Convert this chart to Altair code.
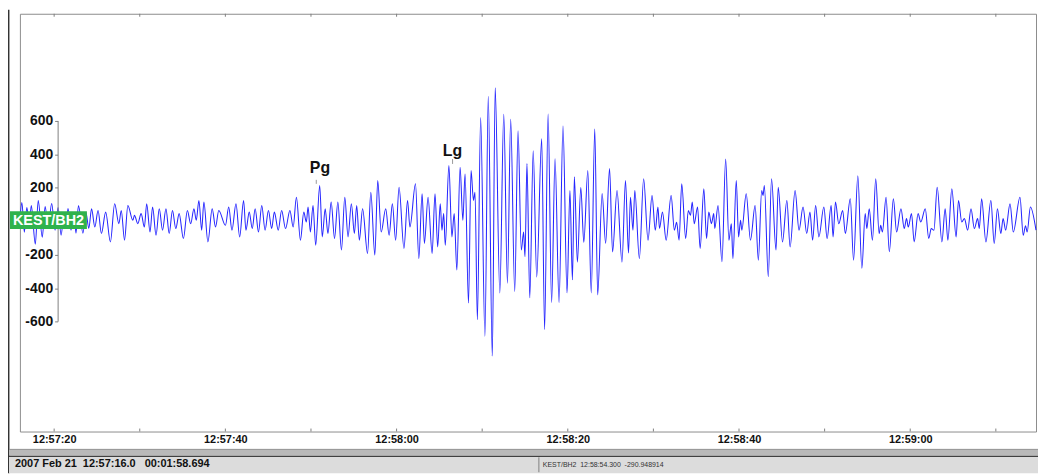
import altair as alt
import pandas as pd

# ---------------- data (seconds after 2007-02-21 12:57:16.0, counts) ----------------
T_NOISE = [0.00, 0.23, 0.52, 0.81, 1.10, 1.33, 1.80, 2.14, 2.61, 2.95, 3.30, 3.71, 4.11, 4.46,
           4.81, 5.16, 5.39, 5.62, 5.97, 6.31, 6.55, 6.84, 7.36, 7.71, 8.05,
           8.37, 8.75, 9.13, 9.52, 10.02, 10.57, 11.07, 11.56, 11.84, 12.22, 12.61, 13.19, 13.38,
           13.77, 14.16, 14.54, 14.81, 15.20, 15.50, 15.90, 16.28, 16.66, 17.06, 17.44, 17.82,
           18.21, 18.60, 19.10, 19.56, 19.95, 20.33, 20.60, 20.91, 21.23, 21.49, 21.96, 22.46,
           22.85, 23.23]
A_NOISE = [0, 113, -65, 83, -24, 95, -137, 125, -95, 89, -42, 107, -53, 83,
           -83, 53, -30, 77, -53, 53, -71, 95, -71, 53, -42,
           75, -34, 65, -73, 55, -123, 105, -14, 65, -113, 95, 6, 36,
           -14, 46, -34, 105, -64, 85, -83, 75, -53, 75, -73, 65,
           -43, 46, -103, 65, -14, 75, 6, 125, -53, 115, -123, 75,
           -34, 65]

T_PG = [24.01, 24.39, 24.77, 25.24, 25.67, 26.13, 26.40, 26.79, 27.14, 27.48, 27.87, 28.25,
        28.64, 29.03, 29.41, 29.72, 30.18, 30.57, 31.03, 31.54, 31.92, 32.30, 32.77, 33.16,
        33.46, 33.66, 33.93, 34.24, 34.55, 35.02, 35.32, 35.66, 35.98, 36.36, 36.75, 37.14,
        37.56, 37.95, 38.33, 38.72, 39.07, 39.34, 39.65, 40.03, 40.61, 40.99, 41.46, 41.80,
        42.20, 42.73, 43.13, 43.51, 43.89, 44.29, 44.86, 45.28, 45.56, 46.21, 46.60, 46.98,
        47.25]
A_PG = [-24, 85, -53, 105, -93, 125, -53, 55, -43, 75, -64, 95,
        -53, 65, -43, 55, -53, 65, -43, 65, -34, 144, -113, 55,
        -4, 85, -64, 95, -143, 214, -93, 75, -73, 115, -103, 115,
        -172, 144, -93, 105, -73, 95, -113, 75, -192, 174, -202, 244,
        -64, 75, -83, 105, -113, 204, -162, 125, -34, 224, -222, 165,
        -132]

T_LG = [47.68, 48.15, 48.49, 48.80, 49.10, 49.30, 49.50, 49.69, 50.11, 50.46, 50.73, 51.04,
        51.42, 51.74, 52.00, 52.40, 52.70, 52.98, 53.16, 53.44, 53.82, 54.32, 54.71, 55.18,
        55.52, 56.06, 56.52, 56.95, 57.33, 57.80, 58.19, 58.57, 58.84, 59.00, 59.23, 59.56,
        59.96, 60.37, 60.95, 61.29, 61.70, 62.11, 62.51, 62.98, 63.44, 63.91, 64.25, 64.54,
        64.77, 65.12, 65.52, 65.87, 66.34, 66.74, 67.15, 67.49, 68.01, 68.42, 68.88, 69.23,
        69.75, 70.33, 70.74, 71.09, 71.32, 71.61]
A_LG = [144, -192, 165, -153, 105, -53, 46, -143, 333, -93, 46, -291,
        323, 6, 283, -489, 303, 125, 174, -588, 620, -687, 748, -806,
        798, -429, 640, -370, 610, -420, 541, -172, -64, -212, 345, -457,
        422, -333, 493, -647, 642, -487, 374, -487, 570, -428, 184, -350,
        267, -244, 202, -125, 303, -428, 552, -440, 166, -131, 315, -184,
        184, -244, 244, -190, 143, -53]

T_CODA = [71.83, 72.36, 72.86, 73.37, 73.84, 74.22, 74.53, 74.71, 75.06, 75.49, 76.07, 76.45,
          76.71, 77.00, 77.31, 77.77, 78.08, 78.33, 78.54, 78.77, 79.16, 79.46, 79.89, 80.21,
          80.47, 80.78, 81.05, 81.17, 81.55, 82.01, 82.44, 82.82, 83.10, 83.29, 83.68, 83.95,
          84.18, 84.33, 84.84, 85.34, 85.88, 86.26, 86.65, 86.81, 86.96, 87.42, 87.80, 88.32,
          88.58, 89.08, 89.59, 89.97, 90.55, 91.01, 91.48, 91.91, 92.29, 92.60, 92.95, 93.33,
          93.91, 94.29, 94.76, 94.99, 95.27, 95.65]
A_CODA = [184, -222, 254, -113, 154, -53, 85, -43, 55, -113, 154, -53,
          -6, -113, 224, -103, 65, 36, 115, -14, 85, -162, 194, -103,
          55, -14, 46, -43, 95, -242, 372, -113, -14, -222, 244, -93,
          6, -53, 165, -113, 95, -232, 184, 154, 214, -331, 254, -172,
          204, -123, 125, -153, 184, -53, 85, -73, 55, -113, 95, -93,
          85, -103, 95, -93, 115, -14]

T_LATE = [96.11, 96.42, 97.00, 97.38, 97.88, 98.35, 98.74, 98.93, 99.21, 99.59, 99.97, 100.37,
          100.55, 100.75, 101.18, 101.56, 102.03, 102.41, 102.92, 103.30, 103.57, 103.77, 104.15,
          104.46, 104.92, 105.23, 105.76, 106.16, 106.46, 106.77, 107.15, 107.70, 108.08, 108.40,
          108.86, 109.36, 109.64, 110.02, 110.33, 110.71, 111.10, 111.49, 111.87, 112.07, 112.34,
          112.84, 113.42, 113.81, 114.19, 114.58, 114.85, 115.15, 115.66, 116.04, 116.82, 117.20,
          117.47, 117.66, 118.04, 118.69]
A_LATE = [65, -73, 135, -232, 273, -281, 46, -43, 75, -113, 254, -73,
          -24, -64, 144, -182, 135, -64, 75, -43, 16, -34, 46,
          -123, 46, -4, 75, -103, -43, -53, 204, -123, 75, -113,
          194, -93, 125, -4, 16, -53, 75, -43, 16, -43, 135,
          -123, 125, -132, 75, -73, 16, -53, 105, -64, 144, -83,
          -26, -64, 85, -53]

DURATION_S = 118.694
Y_TICKS = [600, 400, 200, -200, -400, -600]
Y_DOMAIN = [-1257, 1241]
MINOR_TICK_S = [4, 14, 24, 34, 44, 54, 64, 74, 84, 94, 104, 114]
TICK_S = [4, 24, 44, 64, 84, 104]
TICK_LABELS = ["12:57:20", "12:57:40", "12:58:00", "12:58:20", "12:58:40", "12:59:00"]

PHASE_NAMES = ["Pg", "Lg"]
PHASE_T = [34.62, 50.54]
PHASE_LABEL_T = [35.05, 50.52]
PHASE_TICK_LO = [224, 343]
PHASE_TICK_HI = [248, 372]
PHASE_LABEL_AT = [289, 392]

STATION = "KEST/BH2"
STATUS_LEFT = "2007 Feb 21  12:57:16.0   00:01:58.694"
STATUS_RIGHT = "KEST/BH2  12:58:54.300  -290.948914"

# ---------------- chart ----------------
W, H = 1024, 421
FONT = "Liberation Sans"
NB = "\u00a0"

wave = pd.DataFrame({
    "t": T_NOISE + T_PG + T_LG + T_CODA + T_LATE,
    "amp": A_NOISE + A_PG + A_LG + A_CODA + A_LATE,
})

x_scale = alt.Scale(domain=[0, DURATION_S], nice=False, zero=False)
y_scale = alt.Scale(domain=Y_DOMAIN, nice=False, zero=False)

label_expr = " : ".join(f"datum.value == {s} ? '{l}'" for s, l in zip(TICK_S, TICK_LABELS)) + " : ''"

X_AXIS = alt.Axis(values=TICK_S, labelExpr=label_expr, title=None, grid=False, ticks=False,
                  domain=False, labelFont=FONT, labelFontWeight="bold", labelFontSize=11,
                  labelColor="#111111", labelPadding=2, labelOverlap=False, labelFlush=False)
Y_AXIS = alt.Axis(values=Y_TICKS, labelExpr="'' + datum.value", title=None, grid=False,
                  domain=False, offset=-38, tickSize=3, tickColor="#808080",
                  labelFont=FONT, labelFontWeight="bold", labelFontSize=14,
                  labelColor="#111111", labelPadding=2)


def X(field):
    return alt.X(field, type="quantitative", scale=x_scale, axis=X_AXIS)


def Y(field):
    return alt.Y(field, type="quantitative", scale=y_scale, axis=Y_AXIS)


line = alt.Chart(wave).mark_line(color="#2626ff", strokeWidth=1.05, interpolate="monotone").encode(
    x=X("t"), y=Y("amp"))

yaxis_line = alt.Chart(pd.DataFrame({"a": [Y_TICKS[0]], "b": [Y_TICKS[-1]]})).mark_rule(
    color="#808080", strokeWidth=1).encode(x=alt.value(38.5), y=Y("a"), y2="b")

ticks_df = pd.DataFrame({"t": MINOR_TICK_S})
bottom_ticks = alt.Chart(ticks_df).mark_rule(color="#808080").encode(
    x=X("t"), y=alt.value(H - 3), y2=alt.value(H))
top_ticks = alt.Chart(ticks_df).mark_rule(color="#808080").encode(
    x=X("t"), y=alt.value(0), y2=alt.value(3))

phases = pd.DataFrame({"t": PHASE_T, "tl": PHASE_LABEL_T, "name": PHASE_NAMES,
                       "lo": PHASE_TICK_LO, "hi": PHASE_TICK_HI, "lab": PHASE_LABEL_AT})
ph_tick = alt.Chart(phases).mark_rule(color="#999999", strokeWidth=1).encode(
    x=X("t"), y=Y("lo"), y2="hi")
ph_text = alt.Chart(phases).mark_text(font=FONT, fontWeight="bold", fontSize=16,
                                      baseline="alphabetic", color="#111111").encode(
    x=X("tl"), y=Y("lab"), text="name:N")

st = pd.DataFrame({"s": [STATION]})
station_box = alt.Chart(st).mark_rect(color="#2fb24c").encode(
    x=alt.value(-10), x2=alt.value(67.5), y=alt.value(199), y2=alt.value(217))
station_text = alt.Chart(st).mark_text(font=FONT, fontWeight="bold", fontSize=14.5, color="white",
                                       baseline="middle", align="center").encode(
    x=alt.value(28.8), y=alt.value(208.5), text="s:N")

left_border = alt.Chart(st).mark_rule(color="#333333", strokeWidth=1.5).encode(
    x=alt.value(-11.3), y=alt.value(-4), y2=alt.value(463))

band = alt.Chart(st).mark_rect(color="#b9b9b9").encode(
    x=alt.value(-11), x2=alt.value(W + 2), y=alt.value(439), y2=alt.value(445.5))
band_top = alt.Chart(st).mark_rule(color="#909090").encode(
    x=alt.value(-11), x2=alt.value(W + 2), y=alt.value(439))
status_bg = alt.Chart(st).mark_rect(color="#dcdcdc").encode(
    x=alt.value(-11), x2=alt.value(W + 2), y=alt.value(446), y2=alt.value(463))
status_top = alt.Chart(st).mark_rule(color="#404040", strokeWidth=1.2).encode(
    x=alt.value(-11), x2=alt.value(W + 2), y=alt.value(446))
sep = alt.Chart(st).mark_rule(color="#808080").encode(
    x=alt.value(523), y=alt.value(447), y2=alt.value(462))
status_left = alt.Chart(pd.DataFrame({"s": [STATUS_LEFT.replace(" ", NB)]})).mark_text(
    font=FONT, fontWeight="bold", fontSize=11, color="#111111", align="left", baseline="middle").encode(
    x=alt.value(-5), y=alt.value(454), text="s:N")
status_right = alt.Chart(pd.DataFrame({"s": [STATUS_RIGHT.replace(" ", NB)]})).mark_text(
    font=FONT, fontSize=7, color="#333333", align="left", baseline="middle").encode(
    x=alt.value(527), y=alt.value(455), text="s:N")

chart = alt.layer(
    line, yaxis_line, bottom_ticks, top_ticks, ph_tick, ph_text, station_box, station_text,
    left_border, band, band_top, status_bg, status_top, sep, status_left, status_right,
).properties(
    width=W, height=H,
    autosize=alt.AutoSizeParams(type="none"),
    padding={"left": 12, "top": 4, "right": 2, "bottom": 42},
    background="white",
).configure_view(stroke="#8c8c8c", strokeWidth=1)

chart.save("out.html", embed_options={"renderer": "svg", "actions": False})
